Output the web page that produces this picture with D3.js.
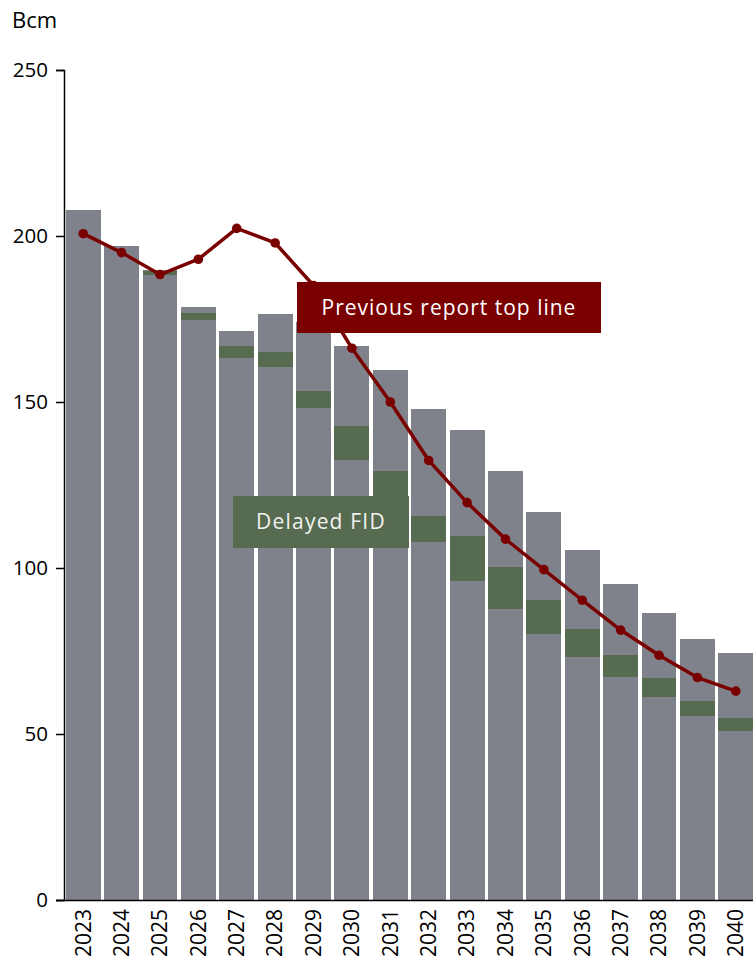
<!DOCTYPE html>
<html>
<head>
<meta charset="utf-8">
<script src="https://cdn.jsdelivr.net/npm/d3@7"></script>
<style>
  html, body { margin: 0; padding: 0; background: #fff; }
  svg { display: block; font-family: "Open Sans", "Noto Sans", sans-serif; }
</style>
</head>
<body>
<svg id="chart" width="753" height="960"></svg>
<script>
// ---- data ----
const years = ["2023","2024","2025","2026","2027","2028","2029","2030","2031","2032","2033","2034","2035","2036","2037","2038","2039","2040"];
const lowerSupply = [207.7,196.9,188.2,174.6,163.2,160.5,148.2,132.4,106.5,107.7,96.0,87.6,80.0,73.1,67.1,61.1,55.3,50.8];
const delayedFID  = [0,0,1.2,2.1,3.6,4.5,5.0,10.3,22.6,7.9,13.6,12.6,10.3,8.4,6.6,5.7,4.6,3.9];
const upperSupply = [0,0,0.3,1.8,4.5,11.4,20.8,24.1,30.5,32.2,31.9,28.9,26.5,23.8,21.4,19.6,18.6,19.6];
const previousTopLine = [200.7,195.0,188.4,193.0,202.3,197.9,185.1,166.2,150.0,132.4,119.7,108.7,99.5,90.3,81.3,73.7,67.0,62.9];
const yTicks = [0,50,100,150,200,250];
const seriesKeys = ["lower","delayed","upper"];

// ---- styles ----
const GRAY = "#80828b", GREEN = "#566b4f", RED = "#7a0000";

const svg = d3.select("#chart");
const x = d3.scaleBand().domain(years).range([64, 755]).paddingInner(0.09).paddingOuter(0.045);
const y = d3.scaleLinear().domain([0, 250]).range([900, 70]);

const rows = years.map((yr, i) => ({year: yr, lower: lowerSupply[i], delayed: delayedFID[i], upper: upperSupply[i]}));
const stacked = d3.stack().keys(seriesKeys)(rows);
const colors = {lower: GRAY, delayed: GREEN, upper: GRAY};

// bars
svg.append("g").attr("shape-rendering", "crispEdges")
  .selectAll("g").data(stacked).join("g")
  .attr("fill", d => colors[d.key])
  .selectAll("rect").data(d => d).join("rect")
  .attr("x", d => x(d.data.year))
  .attr("width", x.bandwidth())
  .attr("y", d => y(d[1]))
  .attr("height", d => Math.max(0, y(d[0]) - y(d[1])));

// axes
const yAxis = svg.append("g").attr("transform", "translate(64,0)")
  .call(d3.axisLeft(y).tickValues(yTicks).tickSize(8).tickPadding(8));
yAxis.select(".domain").attr("stroke", "#000").attr("stroke-width", 1.5);
yAxis.selectAll(".tick line").attr("stroke", "#000").attr("stroke-width", 1.5);
yAxis.selectAll("text").attr("font-size", 20.5).attr("fill", "#000")
  .attr("font-family", "'Open Sans', sans-serif");

const xAxis = svg.append("g").attr("transform", "translate(0,900)")
  .call(d3.axisBottom(x).tickSize(0).tickPadding(0));
xAxis.select(".domain").attr("stroke", "#000").attr("stroke-width", 1.5)
  .attr("d", "M56,0.5H755");
xAxis.selectAll(".tick text")
  .attr("font-size", 21).attr("fill", "#000")
  .attr("font-family", "'Open Sans', sans-serif")
  .attr("transform", "rotate(-90)")
  .attr("text-anchor", "end")
  .attr("x", -9).attr("y", 0).attr("dy", "0.35em");

// unit label
svg.append("text").attr("x", 12).attr("y", 28).attr("font-size", 22).attr("fill", "#000").text("Bcm");

// previous report line
const line = d3.line().x((d, i) => x(years[i]) + x.bandwidth() / 2).y(d => y(d));
svg.append("path").datum(previousTopLine)
  .attr("fill", "none").attr("stroke", RED).attr("stroke-width", 3.5)
  .attr("stroke-linejoin", "round").attr("d", line);
svg.append("g").selectAll("circle").data(previousTopLine).join("circle")
  .attr("cx", (d, i) => x(years[i]) + x.bandwidth() / 2)
  .attr("cy", d => y(d)).attr("r", 4.8).attr("fill", RED);

// annotation boxes
function labelBox(x0, y0, w, h, fill, txt, color, spacing) {
  const g = svg.append("g");
  g.append("rect").attr("x", x0).attr("y", y0).attr("width", w).attr("height", h).attr("fill", fill);
  g.append("text").attr("x", x0 + w / 2).attr("y", y0 + h / 2).attr("dy", "0.35em")
    .attr("text-anchor", "middle").attr("font-size", 21).attr("letter-spacing", spacing)
    .attr("fill", color).text(txt);
}
labelBox(297, 282, 304, 51, RED, "Previous report top line", "#ffffff", 1);
labelBox(233, 496, 176, 52, GREEN, "Delayed FID", "#f2f2f2", 1.2);
</script>
</body>
</html>
